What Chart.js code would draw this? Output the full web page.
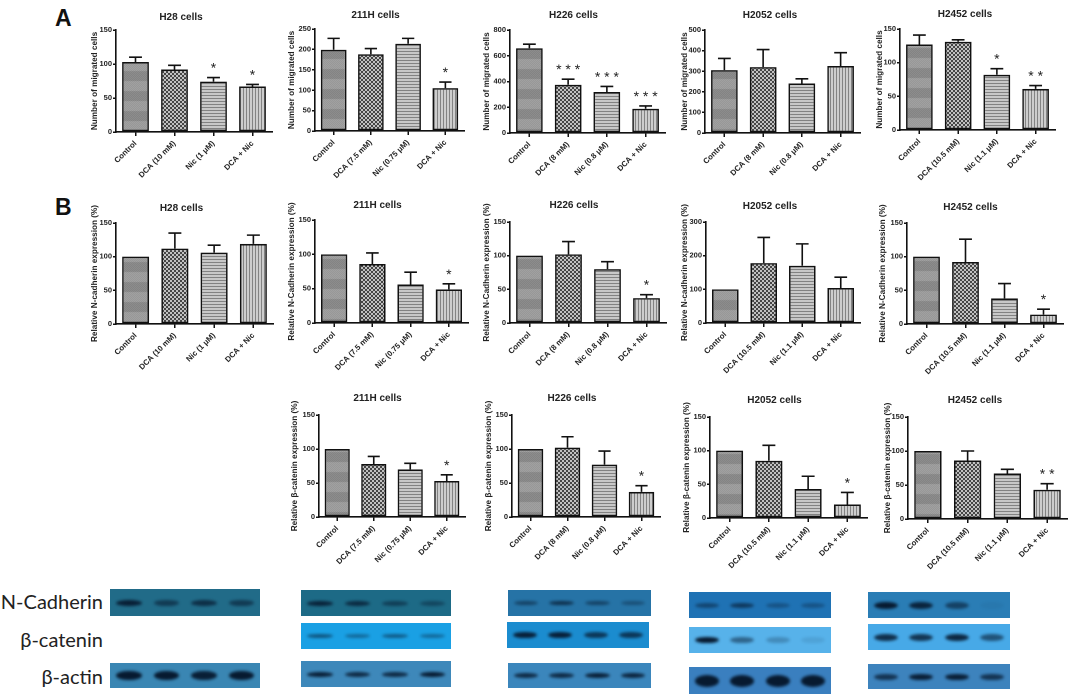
<!DOCTYPE html>
<html>
<head>
<meta charset="utf-8">
<script src="https://cdn.jsdelivr.net/npm/chart.js@4.4.0/dist/chart.umd.min.js"></script>
<style>
  html, body { margin: 0; padding: 0; background: #fff; }
  #wrap { position: relative; width: 1072px; height: 695px; overflow: hidden; background: #fff; }
  canvas.pnl { position: absolute; }
  .big { position: absolute; font-family: "Liberation Sans", Arial, sans-serif; font-weight: bold; font-size: 23px; color: #111; }
  .blabel { position: absolute; right: 969px; font-family: Lato, "Open Sans", sans-serif; font-size: 20px; color: #222; white-space: nowrap; line-height: 1; }
  .blot { position: absolute; overflow: hidden; }
  .band { position: absolute; border-radius: 50%; background: #071a30; filter: blur(1.4px); }
</style>
</head>
<body>
<div id="wrap">
  <div class="big" style="left:55px;top:5px;">A</div>
  <div class="big" style="left:55px;top:194px;">B</div>
</div>
<script>
// ---------- categories / tick labels ----------
const labelsH28   = ['Control', 'DCA (10 mM)', 'Nic (1 μM)', 'DCA + Nic'];
const labels211H  = ['Control', 'DCA (7.5 mM)', 'Nic (0.75 μM)', 'DCA + Nic'];
const labelsH226  = ['Control', 'DCA (8 mM)', 'Nic (0.8 μM)', 'DCA + Nic'];
const labelsH2052A = ['Control', 'DCA (8 mM)', 'Nic (0.8 μM)', 'DCA + Nic'];
const labelsH2052 = ['Control', 'DCA (10.5 mM)', 'Nic (1.1 μM)', 'DCA + Nic'];
const labelsH2452 = ['Control', 'DCA (10.5 mM)', 'Nic (1.1 μM)', 'DCA + Nic'];

// ---------- A: number of migrated cells ----------
const migH28 = [103, 92, 74, 67];      const migH28Err = [7, 6, 6, 3];      const migH28Sig = ['', '', '*', '*'];
const mig211H = [199, 188, 214, 105];  const mig211HErr = [28, 14, 13, 15]; const mig211HSig = ['', '', '', '*'];
const migH226 = [658, 375, 318, 188];  const migH226Err = [32, 43, 44, 22]; const migH226Sig = ['', '* * *', '* * *', '* * *'];
const migH2052 = [305, 320, 240, 325]; const migH2052Err = [57, 85, 23, 65]; const migH2052Sig = ['', '', '', ''];
const migH2452 = [127, 131, 82, 61];   const migH2452Err = [14, 3, 9, 5];   const migH2452Sig = ['', '', '*', '* *'];

// ---------- B: relative N-cadherin expression (%) ----------
const ncadH28 = [100, 112, 106, 119];   const ncadH28Err = [0, 23, 11, 13];   const ncadH28Sig = ['', '', '', ''];
const ncad211H = [100, 86, 56, 49];     const ncad211HErr = [0, 16, 18, 8];   const ncad211HSig = ['', '', '', '*'];
const ncadH226 = [100, 102, 80, 37];    const ncadH226Err = [0, 19, 11, 5];   const ncadH226Sig = ['', '', '', '*'];
const ncadH2052 = [100, 178, 170, 104]; const ncadH2052Err = [0, 76, 65, 32]; const ncadH2052Sig = ['', '', '', ''];
const ncadH2452 = [100, 92, 38, 14];    const ncadH2452Err = [0, 34, 22, 8];  const ncadH2452Sig = ['', '', '', '*'];

// ---------- C: relative beta-catenin expression (%) ----------
const bcat211H = [100, 78, 70, 53];  const bcat211HErr = [0, 11, 9, 9];   const bcat211HSig = ['', '', '', '*'];
const bcatH226 = [100, 102, 77, 37]; const bcatH226Err = [0, 16, 20, 9];  const bcatH226Sig = ['', '', '', '*'];
const bcatH2052 = [100, 85, 43, 20]; const bcatH2052Err = [0, 23, 19, 18]; const bcatH2052Sig = ['', '', '', '*'];
const bcatH2452 = [100, 86, 67, 43]; const bcatH2452Err = [0, 14, 6, 9];  const bcatH2452Sig = ['', '', '', '* *'];

const FONT = '"Liberation Sans", Arial, sans-serif';

// ---------- fill patterns ----------
function tile(w, h, fn) {
  const c = document.createElement('canvas'); c.width = w; c.height = h;
  const g = c.getContext('2d');
  for (let y = 0; y < h; y++) for (let x = 0; x < w; x++) { g.fillStyle = fn(x, y); g.fillRect(x, y, 1, 1); }
  return g.createPattern(c, 'repeat');
}
function patterns() {
  const ctrl = tile(2, 20, (x, y) => {
    const dark = y < 10;
    const odd = (x + y) % 2 === 0;
    return dark ? (odd ? '#767676' : '#9c9c9c') : (odd ? '#8a8a8a' : '#b0b0b0');
  });
  const dca = tile(4, 4, (x, y) => ((Math.floor(x / 2) + Math.floor(y / 2)) % 2 === 0 ? '#151515' : '#f2f2f2'));
  const nic = tile(3, 3, (x, y) => (y === 0 ? '#666666' : '#d6d6d6'));
  const combo = tile(3, 3, (x, y) => (x === 0 ? '#666666' : '#dcdcdc'));
  return [ctrl, dca, nic, combo];
}
const fills = patterns();

// ---------- error bars + significance marks ----------
const errPlugin = {
  id: 'errbars',
  afterDatasetsDraw(chart) {
    const ds = chart.data.datasets[0];
    const meta = chart.getDatasetMeta(0);
    const y = chart.scales.y;
    const c = chart.ctx;
    c.save();
    meta.data.forEach((bar, i) => {
      const v = ds.data[i], e = ds.errors[i];
      const yTop = y.getPixelForValue(v);
      const yE = y.getPixelForValue(v + e);
      const cw = bar.width * 0.48;
      if (e > 0) {
        c.strokeStyle = '#111'; c.lineWidth = 1.6;
        c.beginPath();
        c.moveTo(bar.x, yTop); c.lineTo(bar.x, yE);
        c.moveTo(bar.x - cw / 2, yE); c.lineTo(bar.x + cw / 2, yE);
        c.stroke();
      }
      const s = ds.sig[i];
      if (s) {
        c.fillStyle = '#222';
        c.font = '14px ' + FONT;
        c.textAlign = 'center'; c.textBaseline = 'alphabetic';
        c.fillText(s, bar.x, yE - 5);
      }
    });
    c.restore();
  }
};

// ---------- panel builder ----------
const wrap = document.getElementById('wrap');
function panel(box, labels, vals, errs, sigs, title, yTitle, yMax, step) {
  const [axisX, right, top, bottom, ytx, ty] = box;
  const left = ytx - 5;
  const ctop = ty - 6;
  const xH = 54;
  const w = right - left + 4;
  const h = bottom - ctop + xH;
  const cv = document.createElement('canvas');
  cv.className = 'pnl';
  cv.style.left = left + 'px'; cv.style.top = ctop + 'px';
  cv.style.width = w + 'px'; cv.style.height = h + 'px';
  cv.width = w; cv.height = h;
  wrap.appendChild(cv);
  const yW = axisX - left;
  new Chart(cv.getContext('2d'), {
    type: 'bar',
    data: {
      labels: labels,
      datasets: [{
        data: vals, errors: errs, sig: sigs,
        backgroundColor: fills, borderColor: '#111', borderWidth: 1.6, borderSkipped: false,
        barPercentage: 0.86, categoryPercentage: 0.8
      }]
    },
    options: {
      responsive: false, animation: false, devicePixelRatio: 2,
      layout: { padding: { left: 0, right: 4, top: 0, bottom: 0 } },
      plugins: {
        legend: { display: false }, tooltip: { enabled: false },
        title: {
          display: true, text: title, color: '#222',
          font: { family: FONT, size: 10, weight: 'bold' },
          padding: { top: 0, bottom: Math.max(0, top - ctop - 12) }
        }
      },
      scales: {
        x: {
          grid: { drawOnChartArea: false, drawTicks: true, tickLength: 4, offset: false, color: '#111', lineWidth: 1.5 },
          border: { display: true, color: '#111', width: 1.6 },
          ticks: { maxRotation: 45, minRotation: 45, autoSkip: false, padding: 3, color: '#222',
                   font: { family: FONT, size: 7.8, weight: 'bold' } },
          afterFit(s) { s.height = xH; }
        },
        y: {
          min: 0, max: yMax,
          grid: { drawOnChartArea: false, drawTicks: true, tickLength: 3, color: '#111', lineWidth: 1.5 },
          border: { display: true, color: '#111', width: 1.6 },
          ticks: { stepSize: step, padding: 1, color: '#222', font: { family: FONT, size: 7.5, weight: 'bold' } },
          title: { display: true, text: yTitle, color: '#222', padding: { top: 0, bottom: 0 },
                   font: { family: FONT, size: 8.2, weight: 'bold' } },
          afterFit(s) { s.width = yW; }
        }
      }
    },
    plugins: [errPlugin]
  });
}

const yMig = 'Number of migrated cells';
const yNc = 'Relative N-cadherin expression (%)';
const yNC = 'Relative N-Cadherin expression (%)';
const yBc = 'Relative β-catenin expression (%)';

// box: [axisX, right, plotTop, plotBottom, yTitleCenterX, titleCenterY]
panel([116, 272, 30, 132, 95, 17], labelsH28, migH28, migH28Err, migH28Sig, 'H28 cells', yMig, 150, 50);
panel([315, 464, 29, 131, 292, 15], labels211H, mig211H, mig211HErr, mig211HSig, '211H cells', yMig, 250, 50);
panel([510, 665, 30, 133, 487, 15], labelsH226, migH226, migH226Err, migH226Sig, 'H226 cells', yMig, 800, 200);
panel([705, 860, 30, 133, 685, 15], labelsH2052A, migH2052, migH2052Err, migH2052Sig, 'H2052 cells', yMig, 500, 100);
panel([900, 1055, 29, 130, 880, 14], labelsH2452, migH2452, migH2452Err, migH2452Sig, 'H2452 cells', yMig, 150, 50);

panel([116, 273, 223, 324, 95, 208], labelsH28, ncadH28, ncadH28Err, ncadH28Sig, 'H28 cells', yNc, 150, 50);
panel([315, 468, 220, 323, 292, 205], labels211H, ncad211H, ncad211HErr, ncad211HSig, '211H cells', yNC, 150, 50);
panel([510, 666, 222, 323, 487, 205], labelsH226, ncadH226, ncadH226Err, ncadH226Sig, 'H226 cells', yNC, 150, 50);
panel([706, 860, 222, 323, 685, 206], labelsH2052, ncadH2052, ncadH2052Err, ncadH2052Sig, 'H2052 cells', yNc, 300, 100);
panel([907, 1063, 223, 324, 883, 207], labelsH2452, ncadH2452, ncadH2452Err, ncadH2452Sig, 'H2452 cells', yNC, 150, 50);

panel([319, 465, 415, 517, 295, 398], labels211H, bcat211H, bcat211HErr, bcat211HSig, '211H cells', yBc, 150, 50);
panel([512, 660, 415, 517, 489, 398], labelsH226, bcatH226, bcatH226Err, bcatH226Sig, 'H226 cells', yBc, 150, 50);
panel([710, 867, 417, 518, 687, 400], labelsH2052, bcatH2052, bcatH2052Err, bcatH2052Sig, 'H2052 cells', yBc, 150, 50);
panel([908, 1067, 417, 519, 888, 400], labelsH2452, bcatH2452, bcatH2452Err, bcatH2452Sig, 'H2452 cells', yBc, 150, 50);

// ---------- western blot strips (decorative images) ----------
const blotNames = ['N-Cadherin', 'β-catenin', 'β-actin'];
const blotNameY = [591, 629, 666];
blotNames.forEach((n, i) => {
  const d = document.createElement('div');
  d.className = 'blabel'; d.textContent = n; d.style.top = blotNameY[i] + 'px';
  wrap.appendChild(d);
});
// [x, y, w, h, colour, band height, lane intensities]
const strips = [
  [110, 589, 150, 27, '#216b88', 6, [0.95, 0.6, 0.75, 0.6]],
  [110, 663, 150, 25, '#3a86b3', 9, [1, 1, 0.95, 1]],
  [301, 590, 150, 26, '#1d6a86', 5, [0.9, 0.8, 0.55, 0.45]],
  [301, 623, 150, 26, '#1aa0e4', 4, [0.55, 0.4, 0.5, 0.4]],
  [301, 661, 150, 26, '#3e88ba', 5, [0.95, 0.85, 0.85, 1]],
  [508, 590, 143, 26, '#2673a6', 4, [0.55, 0.75, 0.55, 0.4]],
  [507, 622, 142, 26, '#1b8ccf', 6, [0.95, 0.95, 0.75, 0.75]],
  [508, 663, 143, 25, '#3b86bc', 5, [0.85, 0.85, 0.95, 0.9]],
  [689, 592, 142, 26, '#1f72b4', 5, [0.5, 0.65, 0.35, 0.35]],
  [689, 627, 142, 26, '#57b2ea', 6, [1, 0.5, 0.25, 0.1]],
  [689, 667, 142, 27, '#3a7fbf', 12, [1, 1, 1, 1]],
  [868, 592, 142, 26, '#2a7db5', 7, [1, 0.9, 0.6, 0.05]],
  [868, 624, 142, 26, '#47a9e7', 7, [0.85, 0.8, 0.9, 0.6]],
  [868, 664, 142, 25, '#3d83bd', 6, [0.75, 0.95, 0.95, 0.75]]
];
strips.forEach(s => {
  const [x, y, w, h, col, bh, lanes] = s;
  const d = document.createElement('div');
  d.className = 'blot';
  Object.assign(d.style, { left: x + 'px', top: y + 'px', width: w + 'px', height: h + 'px', background: col });
  lanes.forEach((a, k) => {
    const b = document.createElement('div');
    b.className = 'band';
    const bw = w * 0.17;
    Object.assign(b.style, {
      left: (w * (k * 2 + 1) / 8 - bw / 2) + 'px', top: (h / 2 - bh / 2) + 'px',
      width: bw + 'px', height: bh + 'px', opacity: a
    });
    d.appendChild(b);
  });
  wrap.appendChild(d);
});
</script>
</body>
</html>
